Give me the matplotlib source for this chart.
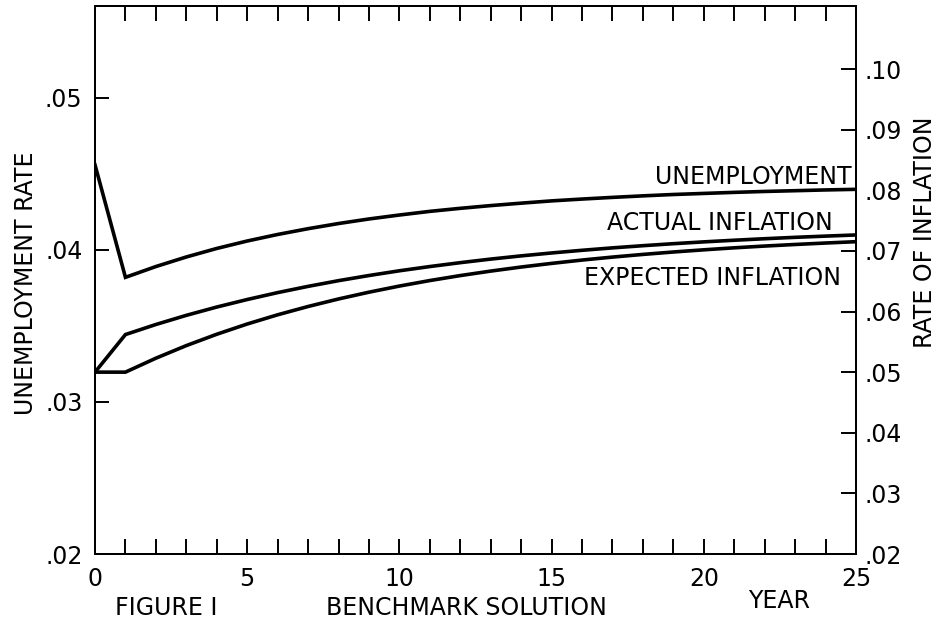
import numpy as np
import matplotlib
matplotlib.use("Agg")
import matplotlib.pyplot as plt
from matplotlib.ticker import MultipleLocator

# benchmark solution, years 0..25
years = list(range(26))
unemployment = [.04560, .03820, .03891, .03954, .04010, .04059, .04102, .04140, .04174, .04204,
                .04230, .04254, .04274, .04292, .04308, .04323, .04335, .04346, .04356, .04365,
                .04372, .04379, .04385, .04390, .04395, .04399]
actual_inflation = [.05000, .05620, .05786, .05937, .06074, .06198, .06312, .06415, .06509, .06594,
                    .06672, .06742, .06806, .06865, .06918, .06966, .07010, .07050, .07086, .07119,
                    .07149, .07176, .07201, .07224, .07244, .07263]
expected_inflation = [.05000, .05000, .05230, .05438, .05625, .05794, .05946, .06083, .06207, .06319,
                      .06420, .06511, .06593, .06667, .06734, .06794, .06849, .06898, .06942, .06982,
                      .07018, .07051, .07080, .07106, .07130, .07152]

left_ticks = [.02, .03, .04, .05]
left_labels = [".02", ".03", ".04", ".05"]
right_ticks = [.02, .03, .04, .05, .06, .07, .08, .09, .10]
right_labels = [".02", ".03", ".04", ".05", ".06", ".07", ".08", ".09", ".10"]
year_ticks = [0, 5, 10, 15, 20, 25]

plt.rcParams['font.family'] = ['DejaVu Sans']
fs = 17

fig = plt.figure(figsize=(9.4, 6.26), dpi=100)
ax = fig.add_axes([95/940, 1-554/626, (856-95)/940, (554-6)/626])
ax2 = ax.twinx()

ax.plot(years, unemployment, color='black', lw=2.6, solid_joinstyle='miter')
ax2.plot(years, actual_inflation, color='black', lw=2.6, solid_joinstyle='miter')
ax2.plot(years, expected_inflation, color='black', lw=2.6, solid_joinstyle='miter')

ax.set_xlim(0, 25)
ax.set_ylim(.02, .05605)
ax2.set_ylim(.02, .1104)

ax.set_xticks(year_ticks)
ax.set_xticklabels([str(v) for v in year_ticks], fontsize=fs)
ax.xaxis.set_minor_locator(MultipleLocator(1))
ax.tick_params(axis='x', which='both', direction='in', top=True, length=10.5, width=1.4, pad=9)

ax.set_yticks(left_ticks)
ax.set_yticklabels(left_labels, fontsize=fs)
ax.tick_params(axis='y', direction='in', length=10, width=1.4, pad=9)
ax2.set_yticks(right_ticks)
ax2.set_yticklabels(right_labels, fontsize=fs)
ax2.tick_params(axis='y', direction='in', length=11, width=1.4, pad=6)

for a in (ax, ax2):
    for s in a.spines.values():
        s.set_linewidth(1.4)

ax2.text(24.85, .0822, "UNEMPLOYMENT", ha='right', va='center', fontsize=fs)
ax2.text(24.25, .0746, "ACTUAL INFLATION", ha='right', va='center', fontsize=fs)
ax2.text(24.5, .0655, "EXPECTED INFLATION", ha='right', va='center', fontsize=fs)

fig.text(26/940, 1-283/626, "UNEMPLOYMENT RATE", rotation=90, ha='center', va='center', fontsize=fs)
fig.text(925/940, 1-232/626, "RATE OF INFLATION", rotation=90, ha='center', va='center', fontsize=fs)
fig.text(115/940, 1-608/626, "FIGURE I", ha='left', va='center', fontsize=fs)
fig.text(326/940, 1-608/626, "BENCHMARK SOLUTION", ha='left', va='center', fontsize=fs)
fig.text(748/940, 1-601/626, "YEAR", ha='left', va='center', fontsize=fs)

fig.savefig("out.png", dpi=100)
